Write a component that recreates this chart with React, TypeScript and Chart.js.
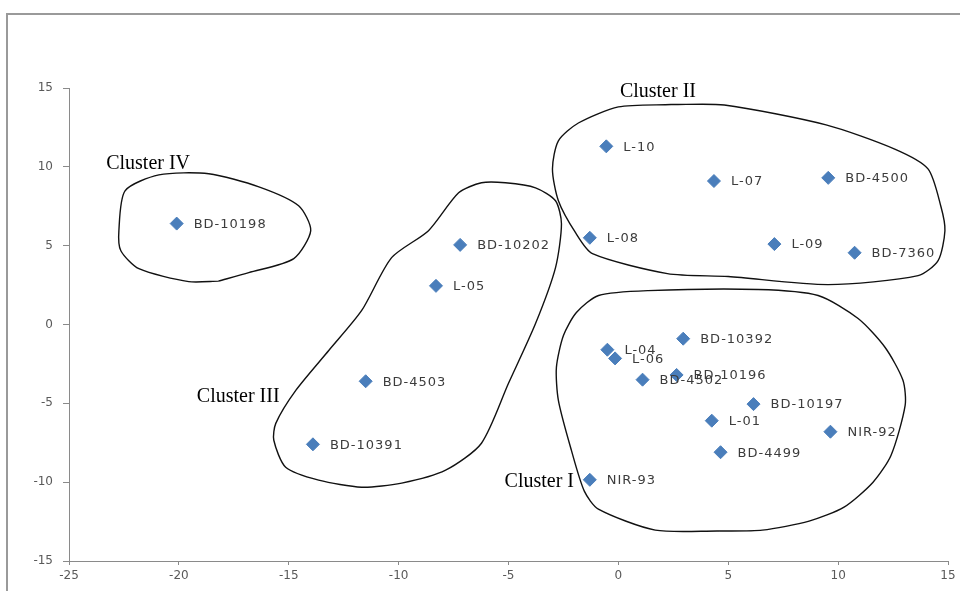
import React, { useEffect, useRef } from "react";
import { Chart, registerables } from "chart.js";

Chart.register(...registerables);

// Genotype points
const genotypes = [
  "BD-10198", "BD-10202", "L-05", "BD-4503", "BD-10391",
  "L-10", "L-07", "BD-4500", "L-08", "L-09", "BD-7360",
  "BD-10392", "L-04", "L-06", "BD-4502", "BD-10196", "BD-10197", "L-01", "NIR-92", "BD-4499", "NIR-93",
];
const xValues = [
  -20.1, -7.2, -8.3, -11.5, -13.9,
  -0.55, 4.35, 9.55, -1.3, 7.1, 10.75,
  2.95, -0.5, -0.15, 1.1, 2.65, 6.15, 4.25, 9.65, 4.65, -1.3,
];
const yValues = [
  6.4, 5.05, 2.45, -3.6, -7.6,
  11.3, 9.1, 9.3, 5.5, 5.1, 4.55,
  -0.9, -1.6, -2.15, -3.5, -3.2, -5.05, -6.1, -6.8, -8.1, -9.85,
];

// Axis ticks
const xMin = -25, xMax = 15, xStep = 5;
const yMin = -15, yMax = 15, yStep = 5;

// Cluster annotation labels
const clusterNames = ["Cluster I", "Cluster II", "Cluster III", "Cluster IV"];
const clusterLabelX = [-3.6, 1.8, -17.3, -21.4];
const clusterLabelY = [-10.0, 14.75, -4.6, 10.2];

// Hand-drawn cluster outlines (data units)
const clusterIOutline: [number, number][] = [
  [4.59, -13.1], [1.68, -13.04], [-0.91, -11.71],
  [-1.55, -10.57], [-2.14, -7.97], [-2.73, -4.81], [-2.82, -2.72], [-2.5, -0.7], [-1.91, 0.76],
  [-0.9, 1.84], [1.36, 2.15], [6.36, 2.22], [9.09, 1.84], [10.91, 0.38], [12.14, -1.46],
  [12.95, -3.54], [13.05, -5.13], [12.41, -8.29], [11.59, -10.0], [10.27, -11.58],
  [8.68, -12.47], [6.55, -13.04],
];
const clusterIIOutline: [number, number][] = [
  [2.4, 13.95], [4.82, 13.92], [9.45, 12.66], [12.55, 11.14], [14.09, 9.87], [14.68, 7.47],
  [14.86, 5.95], [14.55, 4.05], [13.64, 3.1], [9.55, 2.53], [5.0, 3.04], [2.23, 3.23],
  [-1.18, 4.49], [-1.95, 5.82], [-2.73, 7.85], [-3.0, 9.87], [-2.73, 11.65], [-1.82, 12.78],
  [0, 13.8],
];
const clusterIIIOutline: [number, number][] = [
  [-5.0, -3.73], [-6.23, -7.53], [-7.86, -9.24], [-9.86, -10.06],
  [-11.68, -10.32], [-13.64, -9.87], [-15.14, -9.05], [-15.68, -7.34], [-15.59, -6.27],
  [-14.68, -4.18], [-13.18, -1.65], [-11.68, 0.89], [-10.32, 4.24], [-8.64, 5.95], [-7.27, 8.35],
  [-6.23, 8.99], [-5.14, 8.99], [-3.77, 8.67], [-2.86, 7.85], [-2.59, 6.39], [-2.86, 3.61],
  [-3.77, 0.06],
];
const clusterIVOutline: [number, number][] = [
  [-18.2, 2.75], [-19.55, 2.72], [-21.82, 3.54], [-22.64, 4.68],
  [-22.73, 5.95], [-22.45, 8.48], [-20.91, 9.49], [-18.64, 9.56], [-16.36, 8.73],
  [-14.55, 7.53], [-14.0, 5.95], [-14.77, 4.18], [-16.82, 3.29],
];

const outlines = [clusterIOutline, clusterIIOutline, clusterIIIOutline, clusterIVOutline];

export default function App() {
  const canvasRef = useRef<HTMLCanvasElement | null>(null);

  useEffect(() => {
    const canvas = canvasRef.current;
    if (!canvas) return;

    const pointData = xValues.map((x, i) => ({ x, y: yValues[i] }));

    const outlineDatasets = outlines.map((pts) => {
      const closed = [...pts, pts[0]];
      return {
        data: closed.map(([x, y]) => ({ x, y })),
        showLine: true,
        borderColor: "#111111",
        borderWidth: 1.4,
        pointRadius: 0,
        pointHoverRadius: 0,
        tension: 0.25,
        fill: false,
      };
    });

    const framePlugin = {
      id: "frame",
      beforeDraw(chart: any) {
        const ctx = chart.ctx;
        ctx.save();
        ctx.fillStyle = "#ffffff";
        ctx.fillRect(0, 0, chart.width, chart.height);
        ctx.strokeStyle = "#9a9a9a";
        ctx.lineWidth = 2;
        ctx.beginPath();
        ctx.moveTo(7, chart.height);
        ctx.lineTo(7, 14);
        ctx.lineTo(chart.width, 14);
        ctx.stroke();
        ctx.restore();
      },
    };

    const labelsPlugin = {
      id: "labels",
      afterDatasetsDraw(chart: any) {
        const ctx = chart.ctx;
        const meta = chart.getDatasetMeta(0);
        ctx.save();
        ctx.font = '13px "DejaVu Sans"';
        try { (ctx as any).letterSpacing = "1px"; } catch (e) {}
        ctx.fillStyle = "#3c3c3c";
        ctx.textAlign = "left";
        ctx.textBaseline = "middle";
        meta.data.forEach((el: any, i: number) => {
          ctx.fillText(genotypes[i], el.x + 17, el.y + 1);
        });
        try { (ctx as any).letterSpacing = "0px"; } catch (e) {}
        ctx.font = '20px "Liberation Serif"';
        ctx.fillStyle = "#000000";
        ctx.textAlign = "center";
        const xs = chart.scales.x;
        const ys = chart.scales.y;
        clusterNames.forEach((name, i) => {
          ctx.fillText(name, xs.getPixelForValue(clusterLabelX[i]), ys.getPixelForValue(clusterLabelY[i]));
        });
        ctx.restore();
      },
    };

    const chart = new Chart(canvas, {
      type: "scatter",
      data: {
        datasets: [
          {
            data: pointData,
            pointStyle: "rectRot",
            pointRadius: 6.5,
            pointHoverRadius: 6.5,
            backgroundColor: "#4a7ebb",
            borderColor: "#4a7ebb",
            borderWidth: 1,
            showLine: false,
          } as any,
          ...(outlineDatasets as any[]),
        ],
      },
      options: {
        responsive: false,
        animation: false,
        devicePixelRatio: 1,
        layout: { padding: { top: 88, right: 12, bottom: 0, left: 0 } },
        plugins: {
          legend: { display: false },
          tooltip: { enabled: false },
        },
        scales: {
          x: {
            type: "linear",
            min: xMin,
            max: xMax,
            afterFit: (s: any) => { s.height = 30; },
            ticks: {
              stepSize: xStep,
              color: "#595959",
              font: { family: '"DejaVu Sans"', size: 12 },
              padding: 4,
              maxRotation: 0,
            },
            grid: { drawOnChartArea: false, tickLength: 4, color: "#8a8a8a" },
            border: { color: "#8a8a8a", width: 1 },
          },
          y: {
            type: "linear",
            min: yMin,
            max: yMax,
            afterFit: (s: any) => { s.width = 69; },
            ticks: {
              stepSize: yStep,
              color: "#595959",
              font: { family: '"DejaVu Sans"', size: 12 },
              padding: 10,
            },
            grid: { drawOnChartArea: false, tickLength: 6, color: "#8a8a8a" },
            border: { color: "#8a8a8a", width: 1 },
          },
        },
      } as any,
      plugins: [framePlugin, labelsPlugin],
    });

    return () => chart.destroy();
  }, []);

  return (
    <div style={{ position: "absolute", left: 0, top: 0, width: 960, height: 591, background: "#fff" }}>
      <canvas ref={canvasRef} width={960} height={591} style={{ display: "block" }} />
    </div>
  );
}
